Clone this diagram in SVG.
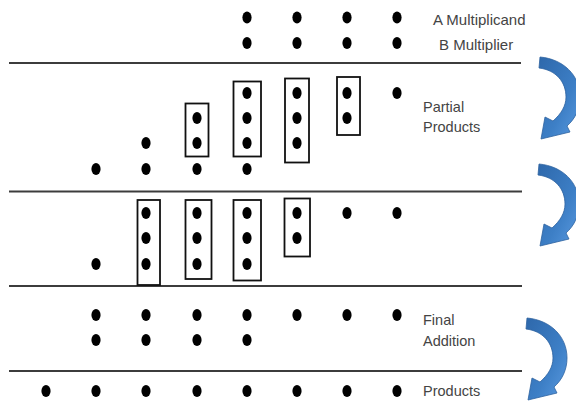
<svg xmlns="http://www.w3.org/2000/svg" width="576" height="403" viewBox="0 0 576 403">
<style>
.d{fill:#000}
.box{fill:none;stroke:#111;stroke-width:1.8}
.sep{stroke:#3c3c3c;stroke-width:1.8}
.lbl{font-family:"Liberation Sans",Arial,sans-serif;font-size:14.5px;fill:#444}
.arr{fill:url(#blue);stroke:#2d62a0;stroke-width:0.8}
</style>
<defs>
<linearGradient id="blue" x1="0" y1="0" x2="1" y2="1">
<stop offset="0" stop-color="#2e68ab"/>
<stop offset="0.6" stop-color="#3d7fc6"/>
<stop offset="1" stop-color="#5a9ae0"/>
</linearGradient>
<ellipse id="dot" cx="0" cy="0" rx="4.6" ry="5.9"/>
<path id="curve" d="M 527 318 C 550 320, 567 336, 567 358 C 567 370, 562 380, 554 387 L 557 393 L 528 400 L 532 378 L 540 382 C 548 375, 553 367, 553 358 C 553 343, 543 331, 526 329 Z"/>
</defs>
<rect width="576" height="403" fill="#fff"/>

<g id="separators">
<line class="sep" x1="9" y1="63" x2="521" y2="63"/>
<line class="sep" x1="9" y1="191.5" x2="522" y2="191.5"/>
<line class="sep" x1="9" y1="286" x2="522" y2="286"/>
<line class="sep" x1="9" y1="371" x2="522" y2="371"/>
</g>

<g id="multiplicand" class="d">
<use href="#dot" x="247" y="17.5"/><use href="#dot" x="297" y="17.5"/><use href="#dot" x="347" y="17.5"/><use href="#dot" x="397" y="17.5"/>
<text class="lbl" x="433" y="24.5" style="font-size:15px">A Multiplicand</text>
</g>
<g id="multiplier" class="d">
<use href="#dot" x="247" y="43"/><use href="#dot" x="297" y="43"/><use href="#dot" x="347" y="43"/><use href="#dot" x="397" y="43"/>
<text class="lbl" x="439" y="50" style="font-size:15px">B Multiplier</text>
</g>

<g id="partial-products">
<g class="d">
<use href="#dot" x="247" y="93"/><use href="#dot" x="297" y="93"/><use href="#dot" x="347" y="93"/><use href="#dot" x="397" y="93"/>
<use href="#dot" x="197" y="118"/><use href="#dot" x="247" y="118"/><use href="#dot" x="297" y="118"/><use href="#dot" x="347" y="118"/>
<use href="#dot" x="146" y="143"/><use href="#dot" x="197" y="143"/><use href="#dot" x="247" y="143"/><use href="#dot" x="297" y="143"/>
<use href="#dot" x="96" y="169"/><use href="#dot" x="146" y="169"/><use href="#dot" x="197" y="169"/><use href="#dot" x="247" y="169"/>
</g>
<rect class="box" x="185.5" y="103.5" width="23" height="53"/>
<rect class="box" x="233.5" y="81.5" width="27.5" height="75"/>
<rect class="box" x="285" y="78.5" width="24" height="84"/>
<rect class="box" x="337" y="77" width="23" height="58"/>
<text class="lbl" x="423" y="112">Partial</text>
<text class="lbl" x="423" y="132">Products</text>
</g>

<g id="reduction">
<g class="d">
<use href="#dot" x="146" y="213"/><use href="#dot" x="197" y="213"/><use href="#dot" x="247" y="213"/><use href="#dot" x="297" y="213"/><use href="#dot" x="347" y="213"/><use href="#dot" x="397" y="213"/>
<use href="#dot" x="146" y="238"/><use href="#dot" x="197" y="238"/><use href="#dot" x="247" y="238"/><use href="#dot" x="297" y="238"/>
<use href="#dot" x="96" y="264"/><use href="#dot" x="146" y="264"/><use href="#dot" x="197" y="264"/><use href="#dot" x="247" y="264"/>
</g>
<rect class="box" x="137.5" y="200" width="22.5" height="85"/>
<rect class="box" x="185.5" y="200" width="26" height="79"/>
<rect class="box" x="233.5" y="200" width="27.5" height="80.5"/>
<rect class="box" x="284.5" y="198.5" width="25.5" height="58"/>
</g>

<g id="final-addition">
<g class="d">
<use href="#dot" x="96" y="315"/><use href="#dot" x="146" y="315"/><use href="#dot" x="197" y="315"/><use href="#dot" x="247" y="315"/><use href="#dot" x="297" y="315"/><use href="#dot" x="347" y="315"/><use href="#dot" x="397" y="315"/>
<use href="#dot" x="96" y="340"/><use href="#dot" x="146" y="340"/><use href="#dot" x="197" y="340"/><use href="#dot" x="247" y="340"/>
</g>
<text class="lbl" x="423" y="325">Final</text>
<text class="lbl" x="423" y="346">Addition</text>
</g>

<g id="products">
<g class="d">
<use href="#dot" x="46" y="391"/><use href="#dot" x="96" y="391"/><use href="#dot" x="146" y="391"/><use href="#dot" x="197" y="391"/><use href="#dot" x="247" y="391"/><use href="#dot" x="297" y="391"/><use href="#dot" x="347" y="391"/><use href="#dot" x="397" y="391"/>
</g>
<text class="lbl" x="423" y="396">Products</text>
</g>

<g id="connectors">
<use class="arr" href="#curve" transform="translate(13,-261)"/>
<use class="arr" href="#curve" transform="translate(12,-154)"/>
<use class="arr" href="#curve"/>
</g>
</svg>
